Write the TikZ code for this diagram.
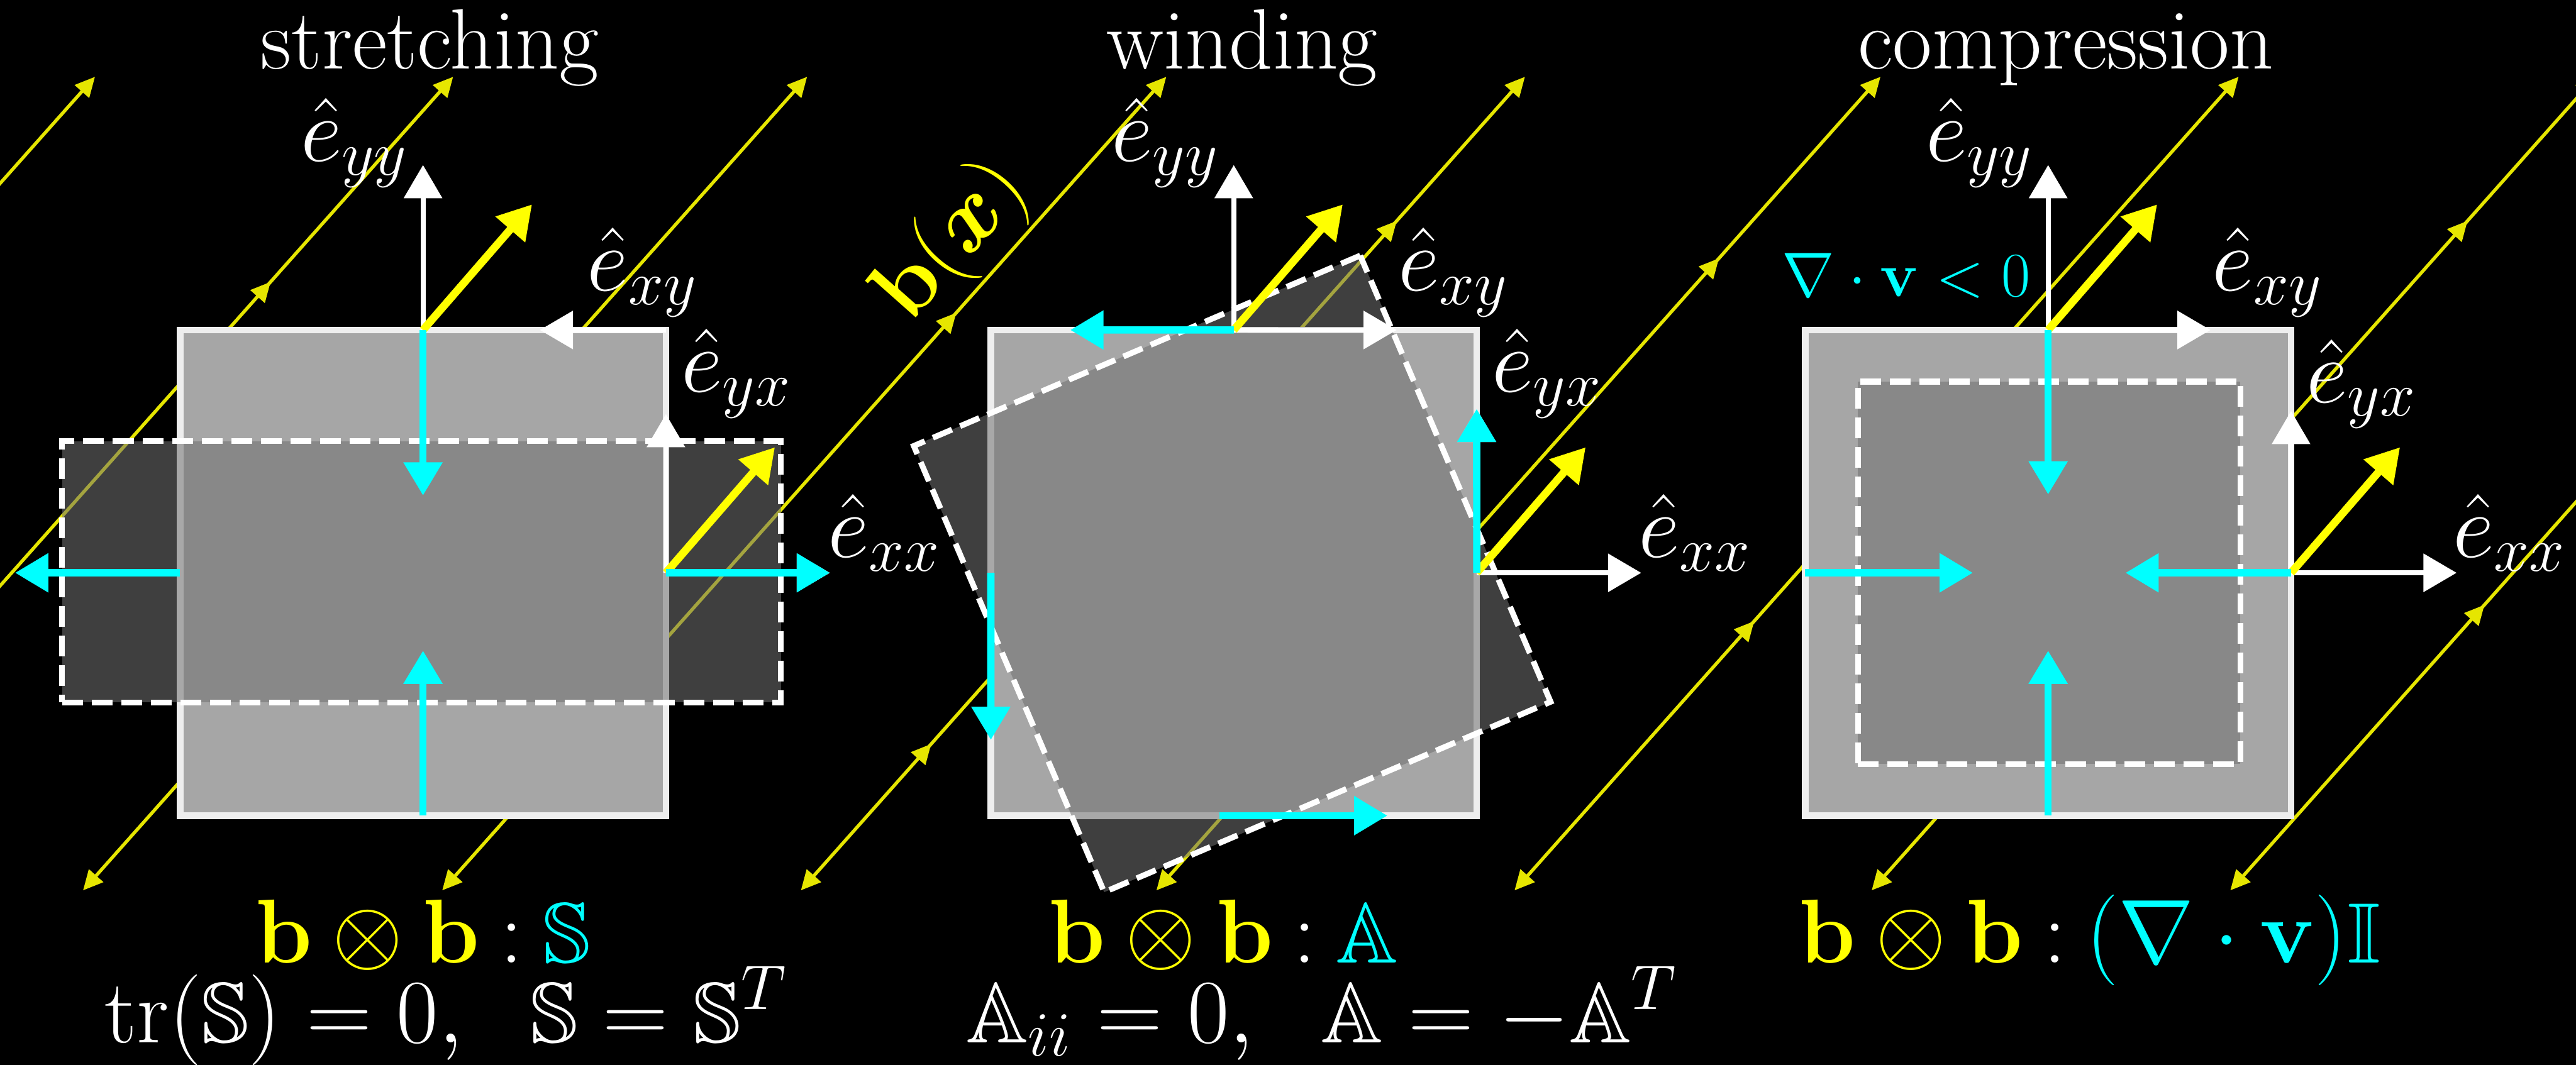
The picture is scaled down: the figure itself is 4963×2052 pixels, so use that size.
\documentclass[tikz,border=0pt]{standalone}
\usepackage{tikz}
\usepackage{amsmath}
\usepackage{amssymb}
\usepackage{xcolor}
\usetikzlibrary{arrows.meta,decorations.markings}

\definecolor{vcyan}{RGB}{0,255,255}
\definecolor{byellow}{RGB}{255,255,0}
\definecolor{lineyellow}{RGB}{230,230,0}
\definecolor{boxgray}{RGB}{166,166,166}
\definecolor{rimgray}{RGB}{238,238,238}
\definecolor{darkveil}{RGB}{114,114,114}

\begin{document}
\begin{tikzpicture}[
  x=0.05mm, y=-0.05mm,
  sqbox/.style={draw=rimgray,fill=boxgray,line width=0.65mm,minimum size=46.8mm,inner sep=0pt,outer sep=0pt},
  deformed/.style={draw=white,fill=darkveil,fill opacity=0.56,line width=0.55mm,dash pattern=on 2mm off 0.85mm,inner sep=0pt,outer sep=0pt},
  evec/.style={draw=white,line width=0.5mm,-{Triangle[length=3.2mm,width=3.6mm]}},
  vflow/.style={draw=vcyan,line width=0.7mm,-{Triangle[length=3.2mm,width=3.6mm]}},
  bvec/.style={draw=byellow,line width=0.75mm,-{Triangle[length=3.2mm,width=3.6mm]}},
  bline/.style={draw=lineyellow,line width=0.32mm,{Triangle[length=1.9mm,width=1.8mm]}-{Triangle[length=1.9mm,width=1.8mm]}},
  bmid/.style={postaction={decorate,decoration={markings,mark=at position #1 with {\arrow{Triangle[length=1.9mm,width=1.8mm]}}}}},
  elabel/.style={text=white,inner sep=0pt,font=\fontsize{24.9}{30}\selectfont},
  ptitle/.style={text=white,inner sep=0pt,anchor=base,font=\fontsize{23.5}{28}\selectfont},
  eqn/.style={text=white,inner sep=0pt,anchor=base,font=\fontsize{23.5}{28}\selectfont}
]
  \useasboundingbox (0,0) rectangle (4963,2052);
  \fill[black] (0,0) rectangle (4963,2052);
  \clip (0,0) rectangle (4963,2052);

  \coordinate (la0) at (-1212,1716);
  \coordinate (la1) at (183,148);
  \coordinate (lb0) at (-522,1716);
  \coordinate (lb1) at (873,148);
  \coordinate (lc0) at (160,1716);
  \coordinate (lc1) at (1555,148);
  \coordinate (ld0) at (852,1716);
  \coordinate (ld1) at (2247,148);
  \coordinate (le0) at (1543,1716);
  \coordinate (le1) at (2938,148);
  \coordinate (lf0) at (2228,1716);
  \coordinate (lf1) at (3623,148);
  \coordinate (lg0) at (2918,1716);
  \coordinate (lg1) at (4313,148);
  \coordinate (lh0) at (3606,1716);
  \coordinate (lh1) at (5001,148);
  \coordinate (li0) at (4297,1716);
  \coordinate (li1) at (5692,148);
  \draw[bline] (la0) -- (la1);
  \draw[bline,bmid=0.748] (lb0) -- (lb1);
  \draw[bline] (lc0) -- (lc1);
  \draw[bline,bmid=0.71] (ld0) -- (ld1);
  \draw[bline,bmid=0.18,bmid=0.823] (le0) -- (le1);
  \draw[bline,bmid=0.777] (lf0) -- (lf1);
  \draw[bline,bmid=0.331] (lg0) -- (lg1);
  \draw[bline,bmid=0.823] (lh0) -- (lh1);
  \draw[bline,bmid=0.351] (li0) -- (li1);

  \node[sqbox] (box1) at (815,1104) {};
  \node[sqbox] (box2) at (2377,1104) {};
  \node[sqbox] (box3) at (3946,1104) {};
  \node[deformed,minimum width=69.25mm,minimum height=25.15mm] (def1) at (812,1102) {};
  \node[deformed,minimum size=46.75mm,rotate=23.1] (def2) at (2374,1106) {};
  \node[deformed,minimum size=36.85mm] (def3) at (3948,1104) {};

  \coordinate (p1yy) at (815,318);
  \coordinate (p1xy) at (1040,636);
  \coordinate (p1yx) at (1283,798);
  \coordinate (p1xx) at (1599,1104);
  \coordinate (p1bt) at (1025,394);
  \coordinate (p1br) at (1493,862);
  \coordinate (p1vt) at (815,955);
  \coordinate (p1vb) at (815,1254);
  \coordinate (p1vl) at (29,1104);
  \draw[evec] (box1.north) -- (p1yy);
  \draw[evec] (box1.north east) -- (p1xy);
  \draw[evec] (box1.east) -- (p1yx);
  \draw[evec] (box1.east) -- (p1xx);
  \draw[bvec] (box1.north) -- (p1bt);
  \draw[bvec] (box1.east) -- (p1br);
  \draw[vflow] (box1.north) -- (p1vt);
  \draw[vflow] (box1.south) -- (p1vb);
  \draw[vflow] (box1.west) -- (p1vl);
  \draw[vflow] (box1.east) -- (p1xx);

  \coordinate (p2yy) at (2377,318);
  \coordinate (p2xy) at (2691,636);
  \coordinate (p2yx) at (2845,788);
  \coordinate (p2xx) at (3162,1104);
  \coordinate (p2bt) at (2587,394);
  \coordinate (p2br) at (3055,862);
  \coordinate (p2vt) at (2062,636);
  \coordinate (p2vl) at (1909,1426);
  \coordinate (p2vb0) at (2350,1572);
  \coordinate (p2vb) at (2673,1572);
  \draw[evec] (box2.north) -- (p2yy);
  \draw[evec] (box2.north) -- (p2xy);
  \draw[evec] (box2.east) -- (p2yx);
  \draw[evec] (box2.east) -- (p2xx);
  \draw[bvec] (box2.north) -- (p2bt);
  \draw[bvec] (box2.east) -- (p2br);
  \draw[vflow] (box2.north) -- (p2vt);
  \draw[vflow] (box2.east) -- (p2yx);
  \draw[vflow] (box2.west) -- (p2vl);
  \draw[vflow] (p2vb0) -- (p2vb);

  \coordinate (p3yy) at (3946,318);
  \coordinate (p3xy) at (4259,636);
  \coordinate (p3yx) at (4414,792);
  \coordinate (p3xx) at (4733,1104);
  \coordinate (p3bt) at (4156,394);
  \coordinate (p3br) at (4624,862);
  \coordinate (p3vt) at (3946,953);
  \coordinate (p3vb) at (3946,1254);
  \coordinate (p3vl) at (3801,1104);
  \coordinate (p3vr) at (4095,1104);
  \draw[evec] (box3.north) -- (p3yy);
  \draw[evec] (box3.north) -- (p3xy);
  \draw[evec] (box3.east) -- (p3yx);
  \draw[evec] (box3.east) -- (p3xx);
  \draw[bvec] (box3.north) -- (p3bt);
  \draw[bvec] (box3.east) -- (p3br);
  \draw[vflow] (box3.north) -- (p3vt);
  \draw[vflow] (box3.south) -- (p3vb);
  \draw[vflow] (box3.west) -- (p3vl);
  \draw[vflow] (box3.east) -- (p3vr);

  \node[ptitle] (title1) at (828,133) {stretching};
  \node[ptitle] (title2) at (2393,133) {winding};
  \node[ptitle] (title3) at (3980,133) {compression};

  \node[elabel] (eyy1) at (683,275) {$\hat{e}_{yy}$};
  \node[elabel] (exy1) at (1238,525) {$\hat{e}_{xy}$};
  \node[elabel] (eyx1) at (1419,720) {$\hat{e}_{yx}$};
  \node[elabel] (exx1) at (1704,1027) {$\hat{e}_{xx}$};
  \node[elabel] (eyy2) at (2245,275) {$\hat{e}_{yy}$};
  \node[elabel] (exy2) at (2800,525) {$\hat{e}_{xy}$};
  \node[elabel] (eyx2) at (2981,720) {$\hat{e}_{yx}$};
  \node[elabel] (exx2) at (3266,1027) {$\hat{e}_{xx}$};
  \node[elabel] (eyy3) at (3814,275) {$\hat{e}_{yy}$};
  \node[elabel] (exy3) at (4369,525) {$\hat{e}_{xy}$};
  \node[elabel] (eyx3) at (4550,740) {$\hat{e}_{yx}$};
  \node[elabel] (exx3) at (4835,1027) {$\hat{e}_{xx}$};
  \node[text=vcyan,inner sep=0pt,anchor=base,font=\fontsize{16.5}{20}\selectfont] (divv) at (3673,571) {$\nabla\cdot\mathbf{v}<0$};
  \node[text=byellow,inner sep=0pt,rotate=48.4,font=\fontsize{23.5}{28}\selectfont] (bfield) at (1836,467) {$\mathbf{b}(\boldsymbol{x})$};

  \node[eqn] (rule1) at (815,1856) {$\textcolor{byellow}{\mathbf{b}\otimes\mathbf{b}}\mathbin{:}\textcolor{vcyan}{\mathbb{S}}$};
  \node[eqn] (prop1) at (860,2009) {$\mathrm{tr}(\mathbb{S})=0,\ \ \mathbb{S}=\mathbb{S}^T$};
  \node[eqn] (rule2) at (2357,1856) {$\textcolor{byellow}{\mathbf{b}\otimes\mathbf{b}}\mathbin{:}\textcolor{vcyan}{\mathbb{A}}$};
  \node[eqn] (prop2) at (2547,2009) {$\mathbb{A}_{ii}=0,\ \ \mathbb{A}=-\mathbb{A}^T$};
  \node[eqn] (rule3) at (4026,1856) {$\textcolor{byellow}{\mathbf{b}\otimes\mathbf{b}}\mathbin{:}\textcolor{vcyan}{(\nabla\cdot\mathbf{v})\mathbb{I}}$};
\end{tikzpicture}
\end{document}
